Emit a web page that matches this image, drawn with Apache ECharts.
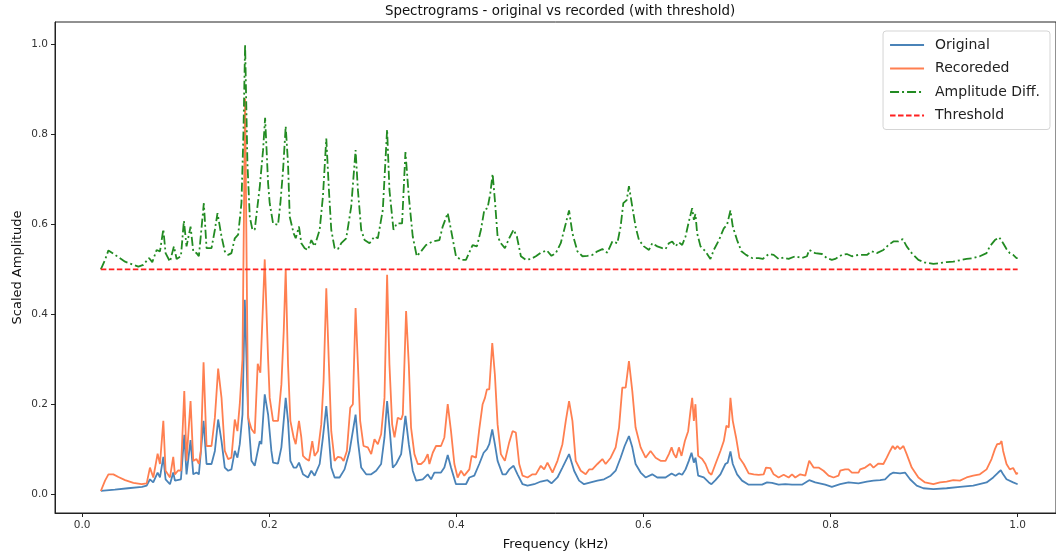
<!DOCTYPE html>
<html>
<head>
<meta charset="utf-8">
<script src="https://cdn.jsdelivr.net/npm/echarts@6/dist/echarts.min.js"></script>
<style>html,body{margin:0;padding:0;background:#fff;}#chart{width:1056px;height:556px;}</style>
</head>
<body>
<div id="chart"></div>
<script>
const chartTitle = 'Spectrograms - original vs recorded (with threshold)';
const seriesNames = ['Original', 'Recoreded', 'Amplitude Diff.', 'Threshold'];
const xTicks = [0, 0.2, 0.4, 0.6, 0.8, 1.0];
const yTicks = [0, 0.2, 0.4, 0.6, 0.8, 1.0];
const thresholdFreq = [0.02, 1.0];
const thresholdValue = 0.5;

// [frequency (kHz), scaled amplitude]
const original = [
[0.020,0.007],[0.035,0.010],[0.049,0.013],[0.064,0.016],[0.069,0.019],[0.0725,0.033],[0.076,0.026],[0.0807,0.048],[0.0832,0.037],[0.0868,0.083],[0.0892,0.033],[0.0939,0.022],[0.0974,0.048],[0.0992,0.030],[0.1056,0.033],[0.1092,0.132],[0.1116,0.044],[0.1159,0.120],[0.1188,0.044],[0.1223,0.048],[0.1248,0.044],[0.1298,0.163],[0.1330,0.067],[0.1383,0.067],[0.1419,0.096],[0.1454,0.166],[0.1490,0.118],[0.1525,0.059],[0.1561,0.052],[0.1596,0.055],[0.1632,0.096],[0.1660,0.081],[0.1685,0.111],[0.1714,0.177],[0.1739,0.432],[0.1774,0.177],[0.1810,0.074],[0.1845,0.063],[0.1899,0.118],[0.1916,0.111],[0.1952,0.222],[0.1988,0.177],[0.2023,0.096],[0.2041,0.070],[0.2094,0.068],[0.2130,0.104],[0.2176,0.214],[0.2201,0.163],[0.2226,0.074],[0.2261,0.059],[0.2290,0.059],[0.2318,0.070],[0.2343,0.055],[0.2361,0.044],[0.2414,0.037],[0.2450,0.052],[0.2485,0.041],[0.2539,0.067],[0.2574,0.126],[0.2610,0.196],[0.2638,0.126],[0.2663,0.059],[0.2699,0.037],[0.2752,0.037],[0.2805,0.055],[0.2859,0.096],[0.2923,0.177],[0.2948,0.118],[0.2983,0.059],[0.3036,0.044],[0.3090,0.044],[0.3143,0.052],[0.3196,0.067],[0.3232,0.126],[0.3260,0.207],[0.3292,0.133],[0.3321,0.059],[0.3356,0.067],[0.3410,0.089],[0.3456,0.174],[0.3492,0.111],[0.3534,0.052],[0.3570,0.030],[0.3641,0.033],[0.3694,0.044],[0.3730,0.033],[0.3765,0.048],[0.3836,0.048],[0.3872,0.059],[0.3908,0.087],[0.3943,0.059],[0.3996,0.022],[0.4050,0.022],[0.4103,0.022],[0.4139,0.037],[0.4192,0.041],[0.4245,0.067],[0.4292,0.092],[0.4327,0.100],[0.4352,0.111],[0.4384,0.144],[0.4412,0.111],[0.4441,0.074],[0.4494,0.044],[0.4530,0.044],[0.4565,0.055],[0.4612,0.063],[0.4654,0.044],[0.4708,0.022],[0.4761,0.019],[0.4832,0.022],[0.4903,0.028],[0.4974,0.031],[0.5017,0.024],[0.5081,0.037],[0.5134,0.059],[0.5205,0.089],[0.5259,0.052],[0.5312,0.030],[0.5365,0.022],[0.5436,0.026],[0.5508,0.030],[0.5579,0.033],[0.5650,0.041],[0.5703,0.052],[0.5756,0.081],[0.5799,0.107],[0.5845,0.129],[0.5881,0.104],[0.5916,0.067],[0.5970,0.048],[0.6023,0.037],[0.6094,0.044],[0.6148,0.037],[0.6236,0.037],[0.6301,0.046],[0.6343,0.041],[0.6379,0.046],[0.6414,0.043],[0.6450,0.055],[0.6485,0.074],[0.6514,0.092],[0.6539,0.070],[0.6556,0.081],[0.6585,0.041],[0.6645,0.037],[0.6699,0.026],[0.6727,0.022],[0.6770,0.031],[0.6823,0.044],[0.6876,0.067],[0.6901,0.070],[0.6930,0.095],[0.6955,0.067],[0.7001,0.044],[0.7054,0.030],[0.7125,0.021],[0.7196,0.021],[0.7268,0.021],[0.7321,0.026],[0.7374,0.025],[0.7445,0.021],[0.7516,0.022],[0.7588,0.021],[0.7694,0.021],[0.7772,0.031],[0.7836,0.026],[0.7943,0.021],[0.8014,0.016],[0.8103,0.022],[0.8192,0.026],[0.8299,0.024],[0.8388,0.028],[0.8459,0.030],[0.8530,0.031],[0.8583,0.033],[0.8636,0.044],[0.8672,0.048],[0.8743,0.046],[0.8796,0.048],[0.8850,0.033],[0.8921,0.019],[0.8992,0.013],[0.9099,0.011],[0.9241,0.013],[0.9383,0.016],[0.9525,0.019],[0.9668,0.026],[0.9739,0.037],[0.9792,0.048],[0.9820,0.053],[0.9845,0.044],[0.9881,0.033],[0.9952,0.026],[1.0,0.022]
];

const recorded = [
[0.020,0.007],[0.0245,0.030],[0.0281,0.044],[0.0334,0.044],[0.0388,0.038],[0.0459,0.031],[0.0548,0.025],[0.0636,0.022],[0.069,0.024],[0.0725,0.059],[0.0761,0.037],[0.0807,0.090],[0.0832,0.067],[0.0868,0.163],[0.0892,0.052],[0.0939,0.037],[0.0974,0.083],[0.0992,0.044],[0.1028,0.053],[0.1056,0.052],[0.1092,0.229],[0.1116,0.074],[0.1159,0.207],[0.1188,0.074],[0.1223,0.078],[0.1248,0.067],[0.1269,0.096],[0.1298,0.293],[0.1330,0.107],[0.1383,0.107],[0.1419,0.170],[0.1454,0.279],[0.1490,0.214],[0.1525,0.096],[0.1561,0.078],[0.1596,0.081],[0.1632,0.166],[0.1660,0.140],[0.1685,0.200],[0.1714,0.300],[0.1742,0.880],[0.1774,0.170],[0.1810,0.145],[0.1845,0.135],[0.1877,0.290],[0.1905,0.270],[0.1952,0.522],[0.1988,0.300],[0.2005,0.214],[0.2041,0.163],[0.2094,0.163],[0.2130,0.244],[0.2155,0.362],[0.2176,0.500],[0.2201,0.288],[0.2226,0.163],[0.2261,0.126],[0.2283,0.111],[0.2318,0.163],[0.2343,0.126],[0.2361,0.085],[0.2396,0.078],[0.2425,0.074],[0.2460,0.118],[0.2485,0.085],[0.2521,0.096],[0.2556,0.155],[0.2581,0.251],[0.2610,0.458],[0.2638,0.288],[0.2663,0.140],[0.2699,0.074],[0.2734,0.083],[0.2770,0.081],[0.2795,0.074],[0.2830,0.096],[0.2866,0.192],[0.2894,0.200],[0.2923,0.414],[0.2948,0.288],[0.2972,0.163],[0.3008,0.107],[0.3054,0.104],[0.3090,0.089],[0.3125,0.122],[0.3161,0.111],[0.3196,0.133],[0.3232,0.214],[0.3260,0.488],[0.3285,0.288],[0.3314,0.155],[0.3339,0.126],[0.3374,0.170],[0.3410,0.166],[0.3428,0.177],[0.3463,0.407],[0.3492,0.288],[0.3516,0.148],[0.3552,0.089],[0.3588,0.067],[0.3623,0.067],[0.3659,0.074],[0.3694,0.089],[0.3712,0.067],[0.3748,0.092],[0.3783,0.107],[0.3836,0.107],[0.3872,0.126],[0.3908,0.200],[0.3943,0.140],[0.3979,0.067],[0.4014,0.037],[0.4050,0.052],[0.4085,0.041],[0.4139,0.055],[0.4164,0.085],[0.4210,0.081],[0.4245,0.144],[0.4281,0.200],[0.4306,0.214],[0.4327,0.233],[0.4352,0.233],[0.4384,0.336],[0.4412,0.266],[0.4441,0.155],[0.4476,0.089],[0.4519,0.074],[0.4565,0.115],[0.4601,0.140],[0.4636,0.137],[0.4672,0.067],[0.4708,0.041],[0.4761,0.037],[0.4814,0.044],[0.4850,0.044],[0.4903,0.063],[0.4939,0.055],[0.4974,0.070],[0.5028,0.048],[0.5081,0.074],[0.5134,0.111],[0.5170,0.163],[0.5205,0.207],[0.5241,0.163],[0.5276,0.074],[0.5330,0.052],[0.5383,0.044],[0.5419,0.055],[0.5454,0.055],[0.5508,0.067],[0.5561,0.078],[0.5596,0.067],[0.5650,0.081],[0.5703,0.104],[0.5739,0.148],[0.5774,0.237],[0.5810,0.237],[0.5845,0.296],[0.5881,0.229],[0.5916,0.148],[0.5970,0.104],[0.6023,0.081],[0.6076,0.096],[0.6130,0.081],[0.6183,0.074],[0.6236,0.074],[0.6272,0.089],[0.6301,0.104],[0.6325,0.089],[0.6350,0.081],[0.6379,0.104],[0.6407,0.085],[0.6443,0.118],[0.6478,0.140],[0.6503,0.185],[0.6521,0.214],[0.6539,0.163],[0.6556,0.200],[0.6585,0.085],[0.6628,0.078],[0.6663,0.067],[0.6699,0.048],[0.6727,0.043],[0.6770,0.067],[0.6823,0.096],[0.6859,0.118],[0.6887,0.152],[0.6912,0.148],[0.6930,0.214],[0.6955,0.163],[0.6990,0.126],[0.7026,0.081],[0.7072,0.067],[0.7125,0.046],[0.7179,0.044],[0.7232,0.043],[0.7285,0.044],[0.7310,0.059],[0.7356,0.058],[0.7392,0.044],[0.7445,0.037],[0.7499,0.043],[0.7552,0.037],[0.7588,0.044],[0.7623,0.037],[0.7676,0.044],[0.7730,0.041],[0.7772,0.074],[0.7819,0.059],[0.7872,0.059],[0.7925,0.052],[0.7979,0.041],[0.8032,0.037],[0.8085,0.041],[0.8103,0.052],[0.8156,0.055],[0.8192,0.055],[0.8228,0.048],[0.8299,0.048],[0.8316,0.055],[0.8370,0.059],[0.8423,0.067],[0.8459,0.059],[0.8512,0.068],[0.8565,0.067],[0.8601,0.081],[0.8636,0.096],[0.8665,0.107],[0.8690,0.100],[0.8715,0.107],[0.8743,0.100],[0.8779,0.107],[0.8814,0.089],[0.8868,0.059],[0.8939,0.037],[0.9010,0.026],[0.9099,0.022],[0.9170,0.026],[0.9241,0.028],[0.9312,0.031],[0.9383,0.030],[0.9454,0.037],[0.9525,0.041],[0.9596,0.044],[0.9668,0.055],[0.9721,0.078],[0.9757,0.100],[0.9781,0.111],[0.9810,0.112],[0.9828,0.118],[0.9845,0.096],[0.9881,0.067],[0.9916,0.055],[0.9952,0.058],[0.9988,0.044],[1.0,0.048]
];

const ampDiff = [
[0.020,0.500],[0.0245,0.521],[0.0281,0.542],[0.0352,0.532],[0.0459,0.517],[0.0601,0.506],[0.0654,0.510],[0.0715,0.525],[0.0750,0.516],[0.0796,0.543],[0.0832,0.540],[0.0868,0.589],[0.0892,0.536],[0.0939,0.517],[0.0981,0.551],[0.1010,0.523],[0.1056,0.529],[0.1088,0.608],[0.1116,0.551],[0.1159,0.595],[0.1188,0.540],[0.1223,0.536],[0.1248,0.529],[0.1301,0.647],[0.1330,0.547],[0.1383,0.547],[0.1419,0.588],[0.1447,0.625],[0.1490,0.573],[0.1525,0.540],[0.1561,0.532],[0.1596,0.536],[0.1632,0.569],[0.1668,0.577],[0.1703,0.647],[0.1724,0.800],[0.1742,1.000],[0.1767,0.735],[0.1792,0.617],[0.1820,0.588],[0.1845,0.588],[0.1899,0.684],[0.1934,0.765],[0.1956,0.837],[0.1988,0.691],[0.2005,0.647],[0.2041,0.602],[0.2094,0.599],[0.2119,0.647],[0.2148,0.721],[0.2176,0.818],[0.2201,0.735],[0.2219,0.617],[0.2261,0.580],[0.2283,0.569],[0.2318,0.595],[0.2343,0.558],[0.2379,0.547],[0.2414,0.543],[0.2450,0.565],[0.2485,0.551],[0.2539,0.588],[0.2574,0.662],[0.2610,0.791],[0.2638,0.676],[0.2663,0.588],[0.2699,0.547],[0.2734,0.545],[0.2770,0.558],[0.2823,0.569],[0.2876,0.639],[0.2923,0.765],[0.2948,0.676],[0.2983,0.588],[0.3019,0.565],[0.3072,0.558],[0.3125,0.573],[0.3161,0.569],[0.3214,0.632],[0.3260,0.811],[0.3285,0.676],[0.3328,0.588],[0.3364,0.602],[0.3420,0.602],[0.3456,0.761],[0.3492,0.662],[0.3534,0.573],[0.3577,0.529],[0.3623,0.540],[0.3676,0.554],[0.3748,0.562],[0.3819,0.565],[0.3854,0.595],[0.3908,0.625],[0.3943,0.588],[0.3996,0.529],[0.4050,0.521],[0.4103,0.521],[0.4121,0.523],[0.4174,0.554],[0.4220,0.551],[0.4263,0.588],[0.4299,0.632],[0.4334,0.636],[0.4363,0.669],[0.4388,0.712],[0.4412,0.654],[0.4441,0.573],[0.4476,0.558],[0.4519,0.547],[0.4565,0.569],[0.4612,0.588],[0.4647,0.573],[0.4690,0.529],[0.4743,0.521],[0.4796,0.523],[0.4850,0.529],[0.4903,0.537],[0.4967,0.542],[0.5017,0.530],[0.5063,0.536],[0.5116,0.558],[0.5170,0.602],[0.5205,0.631],[0.5241,0.580],[0.5294,0.540],[0.5348,0.529],[0.5401,0.530],[0.5454,0.532],[0.5508,0.540],[0.5561,0.545],[0.5614,0.537],[0.5668,0.562],[0.5721,0.558],[0.5756,0.595],[0.5785,0.647],[0.5821,0.654],[0.5845,0.685],[0.5881,0.639],[0.5916,0.595],[0.5952,0.565],[0.6005,0.551],[0.6059,0.543],[0.6094,0.558],[0.6148,0.551],[0.6201,0.547],[0.6236,0.545],[0.6272,0.558],[0.6308,0.562],[0.6343,0.551],[0.6379,0.560],[0.6414,0.554],[0.6450,0.573],[0.6485,0.606],[0.6521,0.636],[0.6539,0.610],[0.6556,0.623],[0.6574,0.580],[0.6610,0.551],[0.6663,0.540],[0.6716,0.523],[0.6752,0.543],[0.6807,0.565],[0.6859,0.591],[0.6894,0.599],[0.6930,0.631],[0.6955,0.595],[0.7001,0.565],[0.7047,0.540],[0.7097,0.532],[0.7161,0.525],[0.7232,0.525],[0.7275,0.523],[0.7339,0.534],[0.7392,0.532],[0.7445,0.523],[0.7499,0.526],[0.7552,0.523],[0.7623,0.529],[0.7694,0.525],[0.7748,0.529],[0.7772,0.543],[0.7836,0.536],[0.7908,0.534],[0.7961,0.525],[0.8014,0.521],[0.8050,0.523],[0.8121,0.532],[0.8174,0.534],[0.8228,0.529],[0.8299,0.532],[0.8316,0.534],[0.8388,0.532],[0.8441,0.540],[0.8494,0.536],[0.8565,0.543],[0.8619,0.554],[0.8672,0.562],[0.8725,0.562],[0.8772,0.567],[0.8814,0.551],[0.8868,0.536],[0.8939,0.521],[0.9010,0.515],[0.9099,0.512],[0.9170,0.514],[0.9241,0.516],[0.9312,0.517],[0.9383,0.520],[0.9454,0.523],[0.9525,0.525],[0.9596,0.529],[0.9668,0.536],[0.9703,0.551],[0.9757,0.565],[0.9803,0.571],[0.9845,0.558],[0.9881,0.545],[0.9916,0.536],[0.9952,0.532],[0.9988,0.525],[1.0,0.525]
];

const threshold = thresholdFreq.map(f => [f, thresholdValue]);

const FONT = 'DejaVu Sans';
const chart = echarts.init(document.getElementById('chart'), null, {renderer: 'canvas'});
const tickLabel = v => v.toFixed(1);

chart.setOption({
  animation: false,
  backgroundColor: '#ffffff',
  textStyle: {fontFamily: FONT},
  graphic: [{
    type: 'text', x: 560, y: 5,
    style: {text: chartTitle, font: '13.4px "DejaVu Sans"', fill: '#111', textAlign: 'center', textVerticalAlign: 'top'}
  }],
  grid: {left: 55, right: -2, top: 22, bottom: 42, show: true, borderColor: '#222', borderWidth: 1, backgroundColor: 'transparent'},
  legend: {
    data: seriesNames,
    orient: 'vertical',
    right: 6, top: 31,
    backgroundColor: '#fff',
    borderColor: '#d5d5d5', borderWidth: 1, borderRadius: 3,
    padding: [7, 10, 7, 6],
    itemWidth: 34, itemHeight: 12, itemGap: 9.5,
    itemStyle: {color: 'rgba(0,0,0,0)', borderWidth: 0, opacity: 0},
    textStyle: {fontSize: 14, color: '#222', fontFamily: FONT, padding: [0, 0, 0, 6]}
  },
  xAxis: {
    type: 'value', min: -0.029, max: 1.041,
    name: 'Frequency (kHz)', nameLocation: 'middle', nameGap: 25, nameMoveOverlap: false,
    nameTextStyle: {fontSize: 13, color: '#111', fontFamily: FONT},
    axisLine: {show: true, onZero: false, lineStyle: {color: '#222', width: 1}},
    axisTick: {show: true, length: 4, lineStyle: {color: '#222'}, customValues: xTicks},
    axisLabel: {fontSize: 10.5, color: '#333', margin: 7, formatter: tickLabel, customValues: xTicks},
    splitLine: {show: false}
  },
  yAxis: {
    type: 'value', min: -0.042, max: 1.05,
    name: 'Scaled Amplitude', nameLocation: 'middle', nameGap: 31, nameMoveOverlap: false,
    nameTextStyle: {fontSize: 13, color: '#111', fontFamily: FONT},
    axisLine: {show: true, onZero: false, lineStyle: {color: '#222', width: 1}},
    axisTick: {show: true, length: 4, lineStyle: {color: '#222'}, customValues: yTicks},
    axisLabel: {fontSize: 10.5, color: '#333', margin: 7, formatter: tickLabel, customValues: yTicks},
    splitLine: {show: false}
  },
  series: [
    {name: seriesNames[0], type: 'line', data: original, symbol: 'none', lineStyle: {color: '#4a83b8', width: 1.8}, itemStyle: {color: '#4a83b8'}, z: 2},
    {name: seriesNames[1], type: 'line', data: recorded, symbol: 'none', lineStyle: {color: '#ff7f50', width: 1.8}, itemStyle: {color: '#ff7f50'}, z: 3},
    {name: seriesNames[2], type: 'line', data: ampDiff, symbol: 'none', lineStyle: {color: '#228b22', width: 1.8, type: [9, 3, 2, 3]}, itemStyle: {color: '#228b22'}, z: 4},
    {name: seriesNames[3], type: 'line', data: threshold, symbol: 'none', lineStyle: {color: '#ff2020', width: 1.8, type: [5.5, 2.5]}, itemStyle: {color: '#ff2020'}, z: 5}
  ]
});
</script>
</body>
</html>
